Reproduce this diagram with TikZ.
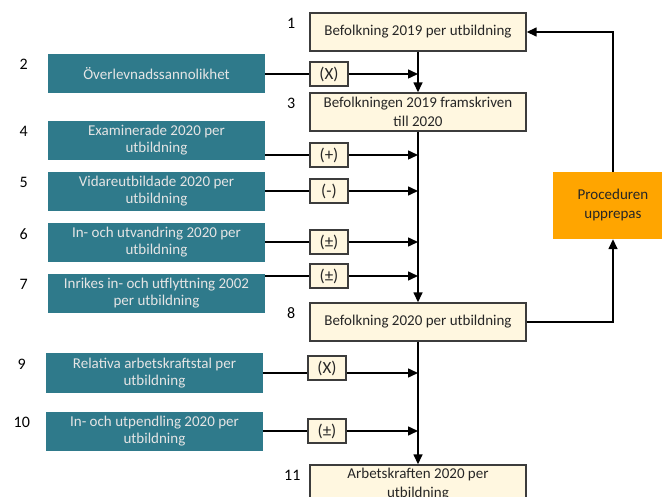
\documentclass[tikz,border=0pt]{standalone}
\usepackage{fontspec}
\setmainfont{Carlito}
\usepackage{tikz}
\usetikzlibrary{arrows.meta,calc}
\definecolor{stagecream}{RGB}{255,247,224}
\definecolor{sourceteal}{RGB}{47,122,139}
\definecolor{loopamber}{RGB}{255,165,0}
\definecolor{framegray}{RGB}{60,60,60}

\begin{document}
\begin{tikzpicture}[x=1pt, y=-1pt,
    stage/.style={draw=framegray, line width=1.4pt, fill=stagecream, minimum width=216pt, minimum height=38pt,
        inner sep=1pt, align=center, text=black!85, font=\fontsize{15}{19}\selectfont},
    source/.style={fill=sourceteal, minimum width=217pt, minimum height=39pt, inner sep=1pt,
        align=center, text=white!90!black, font=\fontsize{15}{17}\selectfont},
    oper/.style={draw=framegray, line width=1.4pt, fill=stagecream, minimum width=38pt, minimum height=24pt,
        inner sep=0pt, text=black!85, font=\fontsize{17}{19}\selectfont},
    num/.style={font=\fontsize{16}{18}\selectfont},
    link/.style={line width=1.5pt},
    flow/.style={line width=1.5pt, -{Triangle[length=10pt,width=9pt]}}]
    \useasboundingbox (0,0) rectangle (662,497);

    % Main column
    \node[stage] (b1) at (418,32) {Befolkning 2019 per utbildning};
    \node[stage] (b3) at (418,112) {Befolkningen 2019 framskriven\\till 2020};
    \node[stage] (b8) at (418,322) {Befolkning 2020 per utbildning};
    \node[stage] (b11) at (418,484) {Arbetskraften 2020 per\\utbildning};

    \node[num] (n1) at ([xshift=-18pt,yshift=-11pt]b1.north west) {1};
    \node[num] (n3) at ([xshift=-18pt,yshift=-11pt]b3.north west) {3};
    \node[num] (n8) at ([xshift=-18pt,yshift=-11pt]b8.north west) {8};
    \node[num] (n11) at ([xshift=-17pt,yshift=-11pt]b11.north west) {11};

    \draw[flow] (b1) -- (b3);
    \draw[flow] (b3) -- (b8);
    \draw[flow] (b8) -- (b11);

    % Inputs
    \node[source] (t2) at (156.5,73.5) {Överlevnadssannolikhet};
    \node[source] (t4) at (156.5,140.5) {Examinerade 2020 per\\utbildning};
    \node[source] (t5) at (156.5,191.5) {Vidareutbildade 2020 per\\utbildning};
    \node[source] (t6) at (156.5,242.5) {In- och utvandring 2020 per\\utbildning};
    \node[source] (t7) at (156.5,293.5) {Inrikes in- och utflyttning 2002\\per utbildning};
    \node[source] (t9) at (154.5,373) {Relativa arbetskraftstal per\\utbildning};
    \node[source] (t10) at (154.5,431.5) {In- och utpendling 2020 per\\utbildning};

    \foreach \k in {2,4,5,6,7,9,10}
        \node[num] (n\k) at ([xshift=-24pt,yshift=-11pt]t\k.north west) {\k};

    % Operators
    \node[oper] (o2) at (329,74) {(X)};
    \node[oper] (o4) at (329,155) {(+)};
    \node[oper] (o5) at (329,191) {(-)};
    \node[oper] (o6) at (329,242) {(±)};
    \node[oper] (o7) at (329,276) {(±)};
    \node[oper] (o9) at (327,368) {(X)};
    \node[oper] (o10) at (327,431) {(±)};

    \foreach \k in {2,4,5,6,7,10} {
        \draw[link] (o\k.west -| t\k.east) -- (o\k.west);
        \draw[flow] (o\k.east) -- (o\k.east -| b1.south);
    }
    \draw[link] (t9.east) -- (t9.east -| o9.west);
    \draw[flow] (t9.east -| o9.east) -- (t9.east -| b1.south);

    % Repeat loop
    \node[fill=loopamber, minimum width=120pt, minimum height=67pt, align=center, text=black!85,
        font=\fontsize{15}{19}\selectfont] (rep) at (613,205.5) {Proceduren\\upprepas};
    \draw[flow] (b8.east) -- (b8.east -| rep.south) -- (rep.south);
    \draw[flow] (rep.north) -- (rep.north |- b1.east) -- (b1.east);
\end{tikzpicture}
\end{document}
